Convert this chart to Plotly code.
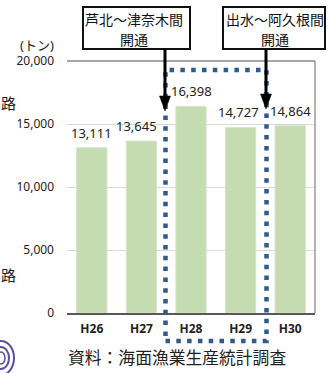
import plotly.graph_objects as go

# ---- data ----
categories = ["H26", "H27", "H28", "H29", "H30"]
values = [13111, 13645, 16398, 14727, 14864]
tick_vals = [0, 5000, 10000, 15000, 20000]
unit_label = "(トン)"
source_label = "資料：海面漁業生産統計調査"
box1_lines = ["芦北～津奈木間", "開通"]
box2_lines = ["出水～阿久根間", "開通"]
side_labels = ["路", "路"]

# ---- geometry helpers (pixel -> paper) ----
W, H = 328, 373
L, R, T, B = 67, 315, 61, 313


def px(x):
    return (x - L) / (R - L)


def py(y):
    return (B - y) / (B - T)


FONT = "Noto Sans, Noto Sans CJK JP, sans-serif"
TXT = "#222222"

fig = go.Figure()
fig.add_trace(go.Bar(
    x=categories, y=values, width=0.61,
    marker=dict(color="#C4DCAF", line=dict(color="#D6E7C8", width=1)),
    hoverinfo="skip",
))

label_xshift = [0, -5, 0, -2, 0]
annotations = []
for c, v, xs in zip(categories, values, label_xshift):
    annotations.append(dict(
        x=c, y=v, xref="x", yref="y", text=f"{v:,}", showarrow=False,
        yanchor="middle", xanchor="center", yshift=15, xshift=xs,
        font=dict(family=FONT, size=13, color=TXT),
    ))

# unit label
annotations.append(dict(
    x=px(37), y=py(45), xref="paper", yref="paper", text=unit_label,
    showarrow=False, xanchor="center", yanchor="middle",
    font=dict(family=FONT, size=13, color=TXT),
))
# source
annotations.append(dict(
    x=px(177), y=py(357), xref="paper", yref="paper", text=source_label,
    showarrow=False, xanchor="center", yanchor="middle",
    font=dict(family=FONT, size=16.8, color=TXT),
))
# side labels (cropped remnants)
for lab, yy in zip(side_labels, [103, 275]):
    annotations.append(dict(
        x=px(8), y=py(yy), xref="paper", yref="paper", text=lab,
        showarrow=False, xanchor="center", yanchor="middle",
        font=dict(family=FONT, size=15, color=TXT),
    ))

# boxes text
for lines, cx in [(box1_lines, 134), (box2_lines, 275)]:
    for txt, yy in zip(lines, [20, 39]):
        annotations.append(dict(
            x=px(cx), y=py(yy), xref="paper", yref="paper", text=txt,
            showarrow=False, xanchor="center", yanchor="middle",
            font=dict(family=FONT, size=14, color="#111111"),
        ))

shapes = []
# boxes
for x0, x1 in [(83, 190), (223, 325)]:
    shapes.append(dict(type="rect", xref="paper", yref="paper",
                       x0=px(x0), x1=px(x1), y0=py(49), y1=py(7),
                       line=dict(color="#111111", width=2), fillcolor="white", layer="above"))

# top line and right border
shapes.append(dict(type="line", xref="paper", yref="paper", x0=0, x1=1, y0=1, y1=1,
                   line=dict(color="#8a8a8a", width=1.3), layer="above"))
shapes.append(dict(type="line", xref="paper", yref="paper", x0=1, x1=1, y0=0, y1=1,
                   line=dict(color="#8a8a8a", width=1.3), layer="above"))

# dotted rectangle
shapes.append(dict(type="rect", xref="paper", yref="paper",
                   x0=px(165.5), x1=px(266.5), y0=py(341), y1=py(70),
                   line=dict(color="#2F5A8E", width=4.5, dash="4.5px,6.3px"), layer="above"))

# arrows
for ax_, tip in [(165, 111), (266, 109)]:
    shapes.append(dict(type="line", xref="paper", yref="paper",
                       x0=px(ax_), x1=px(ax_), y0=py(49), y1=py(tip - 12),
                       line=dict(color="#000000", width=3), layer="above"))
    path = (f"M {px(ax_ - 5.5)},{py(tip - 15)} L {px(ax_ + 5.5)},{py(tip - 15)} "
            f"L {px(ax_)},{py(tip)} Z")
    shapes.append(dict(type="path", xref="paper", yref="paper", path=path,
                       fillcolor="#000000", line=dict(color="#000000", width=0.5), layer="above"))

# purple swirl remnant at bottom-left
for rx, ry, w in [(13, 17, 2), (8, 11, 2), (4, 6, 1.5)]:
    shapes.append(dict(type="circle", xref="paper", yref="paper",
                       x0=px(1 - rx), x1=px(1 + rx), y0=py(358 + ry), y1=py(358 - ry),
                       line=dict(color="#5A4FA8", width=w), layer="above"))

fig.update_layout(
    width=W, height=H,
    margin=dict(l=L, r=W - R, t=T, b=H - B),
    paper_bgcolor="white", plot_bgcolor="white",
    showlegend=False,
    bargap=0.39,
    font=dict(family=FONT, color=TXT),
    xaxis=dict(
        showgrid=False, showline=True, linecolor="#595959", linewidth=2,
        tickfont=dict(family=FONT, size=12, color=TXT, weight="bold"),
        ticks="", ticklabelstandoff=4, fixedrange=True,
    ),
    yaxis=dict(
        range=[0, 20000], tickvals=tick_vals, tickformat=",d",
        showgrid=True, gridcolor="#d9d9d9", gridwidth=1, zeroline=False,
        tickfont=dict(family=FONT, size=12, color=TXT),
        ticks="", ticklabelstandoff=12, showline=False, fixedrange=True,
    ),
    annotations=annotations,
    shapes=shapes,
)

fig.write_html("out.html")
